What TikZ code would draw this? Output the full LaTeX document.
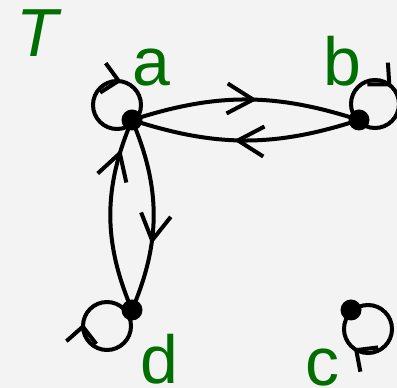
\documentclass[tikz,border=0pt]{standalone}
\usepackage{fontspec}
\setmainfont{Liberation Sans}
\usetikzlibrary{arrows.meta, decorations.markings}
\definecolor{lblgreen}{RGB}{0,110,0}
\definecolor{bggray}{RGB}{243,243,243}

\begin{document}
\begin{tikzpicture}[x=1pt, y=1pt,
    vtx/.style={circle, fill=black, inner sep=0pt, minimum size=21pt},
    lbl/.style={text=lblgreen, inner sep=0pt, anchor=base, font=\fontsize{68}{68}\selectfont},
    edge/.style={line width=4pt},
    mid arrow/.style={postaction={decorate, decoration={markings, mark=at position #1 with {\arrow{Straight Barb[length=26pt,width=30pt]}}}}},
    loop arrow/.style={postaction={decorate, decoration={markings, mark=at position #1 with {\arrowreversed{Straight Barb[length=16pt,width=30pt]}}}}}]
    \path[use as bounding box, fill=bggray] (0,0) rectangle (397,388);
    % vertices
    \node[vtx] (a) at (132,268) {};
    \node[vtx] (b) at (359,268) {};
    \node[vtx] (c) at (351,78) {};
    \node[vtx] (d) at (132,78) {};
    % labels
    \node[lbl, font=\fontsize{68}{68}\selectfont\itshape, anchor=base west] (title) at (16,331) {T};
    \node[lbl] (la) at (151,302) {a};
    \node[lbl] (lb) at (342,302) {b};
    \node[lbl] (lc) at (322,2) {c};
    \node[lbl] (ld) at (159,4) {d};
    % edges
    \draw[edge, mid arrow=0.55] (a.center) to[bend left=18] (b.center);
    \draw[edge, mid arrow=0.55] (b.center) to[bend left=18] (a.center);
    \draw[edge, mid arrow=0.65] (a.center) to[bend left=23] (d.center);
    \draw[edge, mid arrow=0.84] (d.center) to[bend left=23] (a.center);
    % loops
    \draw[edge, loop arrow=0.22] ([shift={(-15,15)}]a.center) circle[radius=24];
    \draw[edge, loop arrow=0.13] ([shift={(16,16)}]b.center) circle[radius=24];
    \draw[edge, loop arrow=0.65] ([shift={(17,-19)}]c.center) circle[radius=24];
    \draw[edge, loop arrow=0.485] ([shift={(-25,-16)}]d.center) circle[radius=24];
\end{tikzpicture}
\end{document}
